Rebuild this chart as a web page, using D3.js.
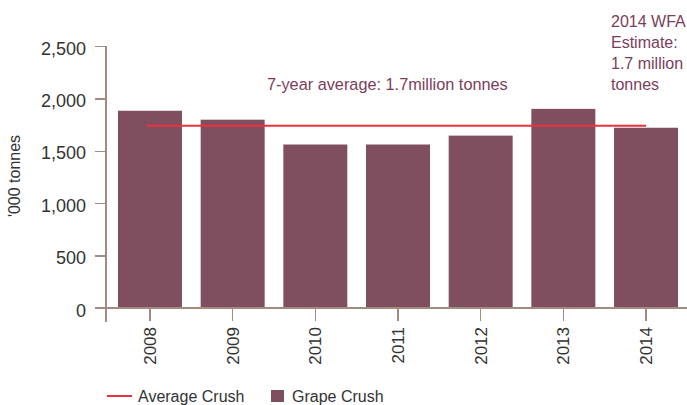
<!DOCTYPE html>
<html>
<head>
<meta charset="utf-8">
<style>
  body { margin: 0; background: #fff; }
  svg { display: block; font-family: "Liberation Sans", Arial, sans-serif; }
  .axis path, .axis line { fill: none; stroke: #a38b82; stroke-width: 1.5px; shape-rendering: crispEdges; }
  .axis text { fill: #333; font-size: 17px; }
  .axis.y text { font-size: 18px; }
  .note { fill: #7b3d5c; font-size: 16px; }
  .legend text { fill: #333; font-size: 16px; }
</style>
</head>
<body>
<svg width="687" height="405"></svg>
<script src="https://cdn.jsdelivr.net/npm/d3@7"></script>
<script>

// data ('000 tonnes)
var years = ["2008", "2009", "2010", "2011", "2012", "2013", "2014"];
var crush = [1882, 1797, 1560, 1560, 1645, 1900, 1720];
var average = 1740;
var yTicks = [0, 500, 1000, 1500, 2000, 2500];
var estimateLines = ["2014 WFA", "Estimate:", "1.7 million", "tonnes"];

var svg = d3.select("svg");

var x = d3.scaleBand()
    .domain(years)
    .range([106, 690])
    .paddingInner(0.226)
    .paddingOuter(0.145);

var y = d3.scaleLinear()
    .domain([0, 2500])
    .range([308, 46]);

var data = years.map(function(d, i) { return {year: d, value: crush[i]}; });

// bars
svg.append("g").selectAll("rect")
    .data(data)
  .enter().append("rect")
    .attr("x", function(d) { return x(d.year); })
    .attr("y", function(d) { return y(d.value); })
    .attr("width", x.bandwidth())
    .attr("height", function(d) { return y(0) - y(d.value); })
    .attr("fill", "#804f5f");

// y axis
var yAxis = svg.append("g")
    .attr("class", "axis y")
    .attr("transform", "translate(106,0)")
    .call(d3.axisLeft(y).tickValues(yTicks).tickSize(11).tickSizeOuter(0).tickPadding(9)
      .tickFormat(d3.format(",")));
yAxis.select(".domain").attr("d", "M0," + y(2500) + "V322");
yAxis.selectAll(".tick text").attr("dy", "0.45em");

// x axis
var xAxis = svg.append("g")
    .attr("class", "axis x")
    .attr("transform", "translate(0," + y(0) + ")")
    .call(d3.axisBottom(x).tickSize(13).tickSizeOuter(0));
xAxis.select(".domain").attr("d", "M95,0H687");
xAxis.selectAll(".tick text")
    .attr("transform", "rotate(-90)")
    .attr("text-anchor", "end")
    .attr("x", -19)
    .attr("y", 0)
    .attr("dy", "0.35em");

// y axis title
svg.append("text")
    .attr("transform", "translate(20,176) rotate(-90)")
    .attr("text-anchor", "middle")
    .attr("fill", "#333")
    .style("font-size", "16px")
    .text("'000 tonnes");

// average line
svg.append("line")
    .attr("x1", x(years[0]) + x.bandwidth() / 2 - 3)
    .attr("x2", x(years[years.length - 1]) + x.bandwidth() / 2)
    .attr("y1", y(average))
    .attr("y2", y(average))
    .attr("stroke", "#e8323c")
    .attr("stroke-width", 2);

// annotations
svg.append("text")
    .attr("class", "note")
    .attr("x", 267)
    .attr("y", 90)
    .style("font-size", "16.3px")
    .text("7-year average: 1.7million tonnes");

svg.append("text")
    .attr("class", "note")
    .selectAll("tspan")
    .data(estimateLines)
  .enter().append("tspan")
    .attr("x", 611)
    .attr("y", function(d, i) { return 27 + i * 21; })
    .text(function(d) { return d; });

// legend
var legend = svg.append("g").attr("class", "legend");
legend.append("line")
    .attr("x1", 107).attr("x2", 132)
    .attr("y1", 396).attr("y2", 396)
    .attr("stroke", "#e8323c")
    .attr("stroke-width", 2);
legend.append("text")
    .attr("x", 138).attr("y", 402)
    .text("Average Crush");
legend.append("rect")
    .attr("x", 271).attr("y", 390)
    .attr("width", 13).attr("height", 12)
    .attr("fill", "#804f5f");
legend.append("text")
    .attr("x", 292).attr("y", 402)
    .text("Grape Crush");

</script>
</body>
</html>
